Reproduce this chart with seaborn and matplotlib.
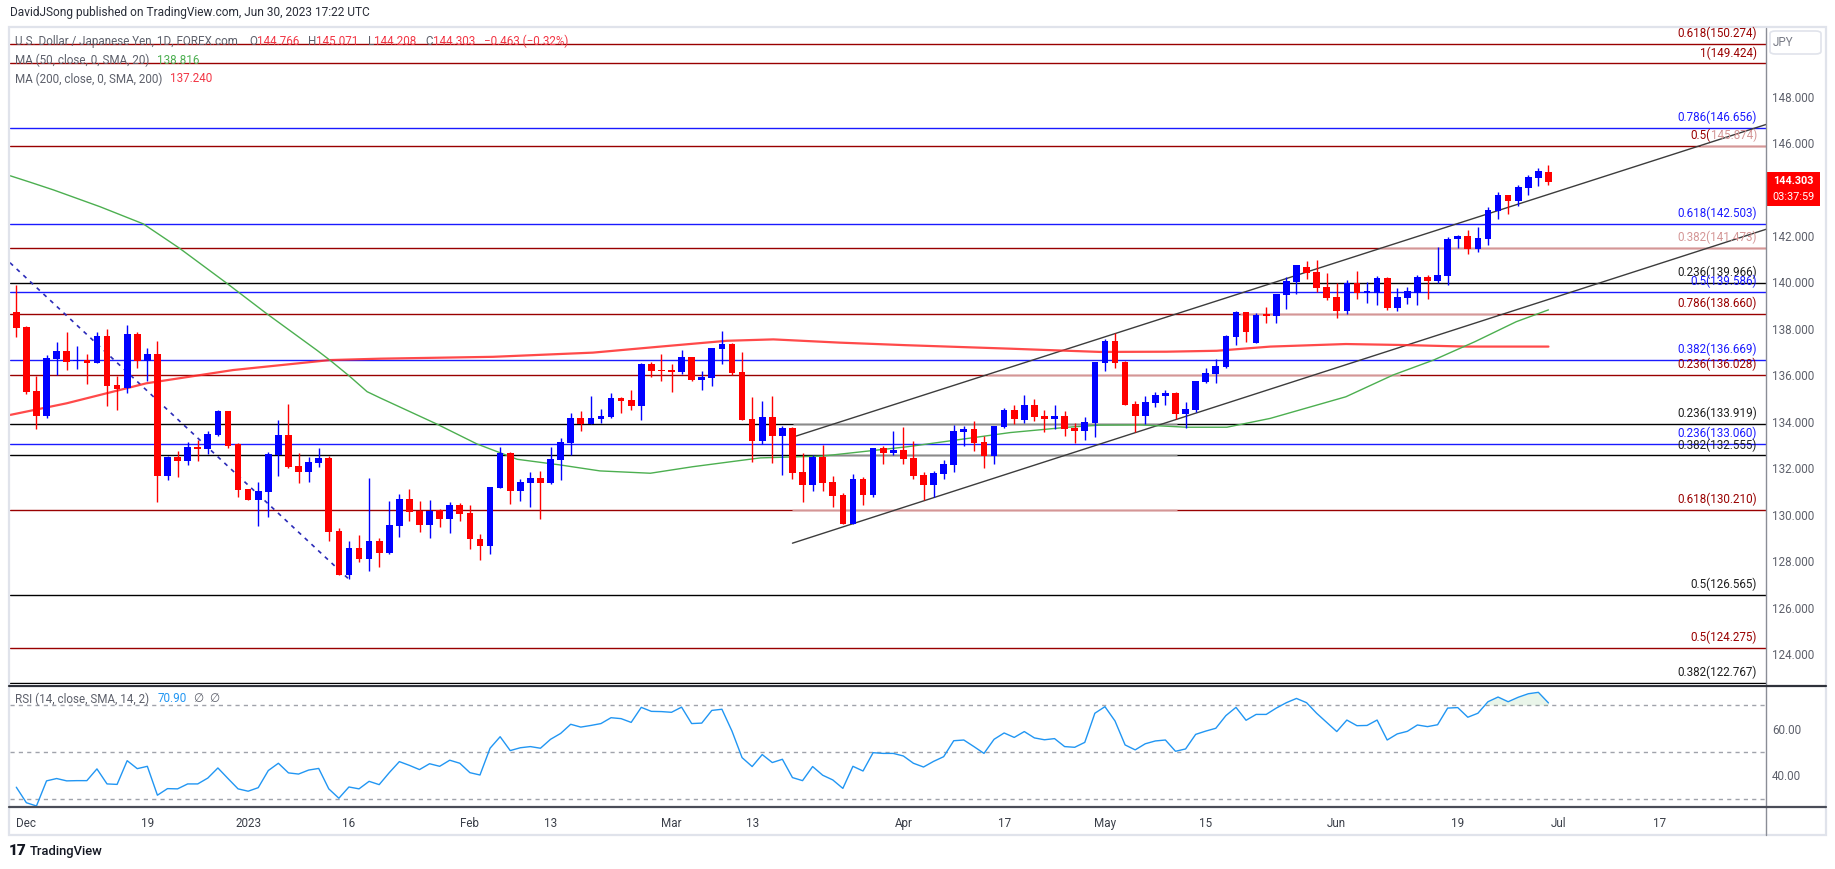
"""
USD/JPY daily candles with Fibonacci levels, channel, MAs and RSI
(TradingView style snapshot, Nov 30 2022 - Jun 30 2023).
"""

import numpy as np
import pandas as pd
import matplotlib
matplotlib.use("Agg")
import matplotlib.pyplot as plt
from matplotlib.patches import Rectangle, FancyBboxPatch
from matplotlib.lines import Line2D
import seaborn as sns

sns.set_theme(style="white")
plt.rcParams["font.family"] = ["Roboto", "DejaVu Sans"]

# ── Data ──────────────────────────────────────────────────────────────────────
opens = [138.72, 138.08, 135.33, 134.27, 136.71, 137.05, 136.60, 136.66, 136.55, 137.70,
         135.59, 135.44, 137.78, 136.64, 136.92, 131.69, 132.48, 132.33, 132.93, 132.85,
         133.44, 134.47, 133.05, 131.10, 130.65, 131.00, 132.58, 133.44, 132.10, 131.86,
         132.24, 132.45, 129.31, 127.43, 128.57, 128.12, 128.88, 128.37, 129.54, 130.68,
         130.18, 129.58, 130.21, 129.84, 130.42, 130.08, 128.96, 128.68, 131.17, 132.66,
         131.04, 131.39, 131.59, 131.39, 132.38, 133.11, 134.17, 133.92, 134.14, 134.23,
         135.03, 134.94, 134.70, 136.49, 136.23, 136.23, 136.16, 136.79, 135.82, 135.90,
         137.14, 137.37, 136.15, 134.13, 133.19, 134.21, 133.41, 133.74, 131.84, 131.30,
         132.50, 131.41, 130.85, 129.62, 131.54, 130.87, 132.88, 132.68, 132.79, 132.45,
         131.72, 131.30, 131.77, 132.16, 133.58, 133.69, 133.14, 132.55, 133.79, 134.51,
         134.10, 134.73, 134.24, 134.11, 134.24, 133.74, 133.62, 133.97, 136.55, 137.48,
         136.58, 134.77, 134.27, 134.83, 135.13, 135.24, 134.36, 134.53, 135.73, 136.08,
         136.36, 137.67, 138.73, 137.41, 138.63, 138.57, 139.48, 140.03, 140.67, 140.45,
         139.81, 139.37, 138.79, 139.98, 139.56, 139.56, 140.19, 138.92, 139.35, 139.56,
         140.24, 140.08, 140.29, 141.85, 142.00, 141.45, 141.88, 143.09, 143.76, 143.50,
         144.08, 144.51, 144.766]
highs = [139.89, 138.13, 135.98, 136.88, 137.42, 137.87, 137.27, 136.92, 137.87, 138.00,
         135.99, 138.17, 137.87, 137.18, 137.48, 132.53, 132.75, 133.14, 133.22, 133.61,
         134.53, 134.47, 133.11, 131.10, 131.41, 132.72, 134.08, 134.77, 132.66, 132.50,
         132.89, 132.53, 129.42, 128.89, 129.13, 131.57, 128.99, 130.60, 130.90, 131.11,
         130.60, 130.64, 130.25, 130.57, 130.52, 130.42, 129.16, 131.20, 132.92, 132.72,
         131.54, 131.85, 131.89, 132.92, 133.31, 134.38, 134.47, 135.12, 134.56, 135.24,
         135.09, 135.39, 136.55, 136.58, 136.92, 136.49, 137.09, 136.79, 136.19, 137.18,
         137.91, 137.41, 137.01, 135.09, 134.90, 135.11, 133.82, 133.78, 132.66, 132.57,
         133.02, 131.67, 130.94, 131.76, 131.63, 132.88, 132.96, 133.61, 133.78, 133.18,
         131.84, 131.89, 132.36, 133.88, 133.82, 134.04, 133.39, 133.82, 134.60, 134.73,
         135.16, 134.99, 134.51, 134.73, 134.47, 133.95, 134.21, 136.58, 137.57, 137.81,
         136.62, 134.90, 135.12, 135.29, 135.37, 135.29, 134.86, 135.76, 136.32, 136.71,
         137.74, 138.77, 138.73, 138.69, 138.94, 139.50, 140.24, 140.75, 140.92, 140.97,
         140.41, 139.98, 140.11, 140.49, 140.02, 140.28, 140.24, 139.76, 139.81, 140.32,
         140.32, 141.53, 141.96, 142.04, 142.26, 142.39, 143.25, 143.89, 143.76, 144.19,
         144.62, 144.93, 145.071]
lows = [137.67, 135.20, 133.68, 134.15, 136.00, 136.23, 136.28, 135.65, 136.52, 134.70,
        134.53, 135.26, 136.32, 135.77, 130.57, 131.50, 131.63, 132.15, 132.32, 132.62,
        133.39, 132.89, 130.78, 130.65, 129.54, 129.92, 131.69, 132.03, 131.36, 131.40,
        132.07, 128.89, 127.43, 127.24, 127.97, 127.60, 127.77, 128.30, 129.06, 129.75,
        129.28, 129.02, 129.49, 129.23, 129.75, 128.55, 128.07, 128.32, 131.17, 130.48,
        130.60, 130.35, 129.84, 131.33, 131.52, 132.58, 133.62, 133.90, 133.95, 134.18,
        134.40, 134.53, 134.10, 135.95, 135.78, 135.30, 136.05, 135.78, 135.39, 135.55,
        136.51, 136.02, 134.10, 132.29, 133.05, 132.23, 131.72, 131.56, 130.57, 131.04,
        131.04, 130.35, 129.62, 129.62, 130.44, 130.78, 132.20, 132.58, 132.20, 131.56,
        130.64, 130.78, 131.56, 131.86, 132.98, 132.76, 132.03, 132.20, 133.74, 133.90,
        133.97, 134.05, 133.58, 133.68, 133.41, 133.08, 133.24, 133.36, 136.20, 136.33,
        134.74, 133.57, 133.91, 134.66, 134.74, 134.11, 133.75, 134.44, 135.67, 135.67,
        136.32, 137.32, 137.45, 137.41, 138.27, 138.27, 138.87, 139.52, 140.16, 139.60,
        139.26, 138.49, 138.66, 139.30, 139.13, 139.04, 138.83, 138.79, 139.09, 139.04,
        139.30, 139.99, 139.91, 141.48, 141.24, 141.33, 141.63, 142.73, 142.95, 143.29,
        143.76, 144.17, 144.208]
closes = [138.06, 135.30, 134.27, 136.74, 137.05, 136.59, 136.65, 136.55, 137.70, 135.56,
          135.42, 137.78, 136.64, 136.92, 131.69, 132.50, 132.33, 132.92, 132.85, 133.48,
          134.47, 132.98, 131.08, 130.65, 131.04, 132.63, 133.44, 132.07, 131.86, 132.27,
          132.45, 129.28, 127.43, 128.57, 128.12, 128.88, 128.37, 129.57, 130.68, 130.14,
          129.58, 130.18, 129.84, 130.42, 130.05, 128.94, 128.68, 131.20, 132.66, 131.04,
          131.41, 131.59, 131.39, 132.40, 133.14, 134.17, 133.92, 134.17, 134.25, 135.03,
          134.91, 134.70, 136.49, 136.21, 136.19, 136.16, 136.79, 135.82, 135.93, 137.18,
          137.37, 136.12, 134.10, 133.19, 134.21, 133.41, 133.74, 131.82, 131.30, 132.50,
          131.38, 130.83, 129.62, 131.54, 130.87, 132.88, 132.68, 132.79, 132.42, 131.69,
          131.30, 131.80, 132.19, 133.61, 133.69, 133.11, 132.55, 133.82, 134.51, 134.11,
          134.73, 134.23, 134.11, 134.24, 133.71, 133.62, 133.99, 136.58, 137.48, 136.55,
          134.74, 134.27, 134.86, 135.16, 135.24, 134.36, 134.56, 135.76, 136.11, 136.41,
          137.70, 138.73, 137.88, 138.61, 138.57, 139.50, 140.06, 140.75, 140.42, 139.78,
          139.35, 138.79, 139.98, 139.56, 139.63, 140.19, 138.92, 139.37, 139.63, 140.24,
          140.08, 140.32, 141.87, 142.00, 141.45, 141.91, 143.12, 143.76, 143.52, 144.12,
          144.55, 144.80, 144.303]

rsi = [35.0, 28.4, 27.0, 37.7, 38.7, 37.7, 37.8, 37.8, 42.8, 36.4,
       36.2, 46.3, 42.9, 43.9, 31.6, 34.4, 34.3, 36.4, 36.4, 38.9,
       43.2, 38.7, 34.3, 33.3, 34.8, 42.1, 45.2, 41.1, 40.6, 42.3,
       43.0, 34.3, 30.3, 35.1, 34.3, 37.5, 36.1, 41.2, 45.9, 44.3,
       42.5, 45.0, 43.9, 46.5, 45.2, 41.2, 40.2, 51.6, 56.5, 50.6,
       51.8, 52.3, 51.6, 55.4, 57.9, 61.8, 60.6, 61.3, 62.1, 64.6,
       64.2, 62.6, 69.0, 67.3, 67.2, 66.9, 69.1, 62.1, 62.3, 67.7,
       68.2, 58.9, 47.6, 43.8, 48.9, 45.5, 46.9, 39.1, 37.8, 43.8,
       40.1, 38.1, 34.5, 43.9, 41.9, 49.7, 49.4, 49.4, 48.3, 45.2,
       43.6, 46.0, 48.0, 54.8, 55.1, 52.3, 49.4, 55.4, 58.1, 56.2,
       58.7, 56.0, 55.2, 55.7, 52.3, 52.0, 54.1, 66.5, 69.3, 63.2,
       53.0, 50.9, 53.5, 54.7, 55.1, 50.3, 51.3, 57.5, 58.9, 60.1,
       65.5, 69.0, 63.5, 66.0, 66.0, 68.7, 71.0, 72.8, 71.0, 66.5,
       62.6, 58.7, 63.6, 61.2, 61.3, 63.6, 55.1, 57.7, 58.8, 61.5,
       60.8, 61.6, 68.7, 68.9, 64.8, 66.5, 71.4, 73.4, 71.4, 73.3,
       74.8, 75.4, 70.9]

# moving averages, sampled along the curves (bar index, price)
ma50_x = [-0.6, 1.4, 3.7, 8.3, 12.6, 16.2, 20.9, 22.2, 24.8, 29.8, 31.1, 33.1, 34.8,
          36.1, 41.7, 45.7, 49.7, 53.9, 57.9, 62.9, 67.1, 73.8, 80.0, 88.4, 98.6,
          104.3, 107.5, 111.5, 116.1, 120.1, 124.4, 131.9, 136.6, 140.6, 144.7, 148.8, 152.0]
ma50_y = [144.59, 144.31, 143.98, 143.26, 142.52, 141.47, 139.96, 139.53, 138.67, 137.09,
          136.66, 135.95, 135.30, 135.03, 133.91, 133.05, 132.39, 132.15, 131.89, 131.79,
          132.07, 132.45, 132.53, 132.93, 133.54, 133.77, 133.86, 133.87, 133.77, 133.77,
          134.15, 135.08, 136.02, 136.66, 137.45, 138.31, 138.82]
ma200_x = [-0.6, 5.0, 12.9, 21.5, 31.1, 36.1, 47.3, 57.2, 63.9, 70.5, 75.1, 81.7, 88.3,
           98.6, 107.5, 114.1, 119.1, 124.4, 131.9, 137.3, 143.9, 152.0]
ma200_y = [134.30, 134.80, 135.66, 136.23, 136.66, 136.72, 136.80, 136.98, 137.24, 137.49,
           137.55, 137.41, 137.30, 137.15, 137.01, 137.02, 137.06, 137.24, 137.35, 137.31,
           137.24, 137.24]

fib_levels = [150.274, 149.424, 146.656, 145.874, 142.503, 141.473, 139.966, 139.586, 138.660,
              136.669, 136.028, 133.919, 133.060, 132.555, 130.210, 126.565, 124.275, 122.767]
fib_ratios = ["0.618", "1", "0.786", "0.5", "0.618", "0.382", "0.236", "0.5", "0.786",
              "0.382", "0.236", "0.236", "0.236", "0.382", "0.618", "0.5", "0.5", "0.382"]
fib_tool = ["r", "r", "b", "r", "b", "r", "k", "b", "r", "b", "r", "k", "b", "k", "r", "k", "r", "k"]

# channel and down-trend line anchors (bar index, price)
chan_upper = [(77.0, 133.34), (173.6, 146.80)]
chan_lower = [(77.0, 128.78), (173.6, 142.29)]
down_line = [(-0.63, 140.85), (32.9, 127.27)]

# price-axis labels (144.000 sits under the last-price tag, so it is not shown)
price_ticks = [124, 126, 128, 130, 132, 134, 136, 138, 140, 142, 146, 148]

tick_dates = ["2022-12-01", "2022-12-19", "2023-01-02", "2023-01-16", "2023-02-01", "2023-02-13",
              "2023-03-01", "2023-03-13", "2023-04-03", "2023-04-17", "2023-05-01", "2023-05-15",
              "2023-06-01", "2023-06-19", "2023-07-03", "2023-07-17"]
tick_text = ["Dec", "19", "2023", "16", "Feb", "13", "Mar", "13", "Apr", "17", "May", "15",
             "Jun", "19", "Jul", "17"]

# ── Styling constants ─────────────────────────────────────────────────────────
W, H = 1835, 869
FS = 8.4
UP, DOWN = "#0000ff", "#ff0000"
DRED, BLUE, BLACK, PINK = "#990000", "#1a1aff", "#000000", "#d49696"
TXT, GRAY = "#2a2e39", "#5d606b"
tool_color = {"r": DRED, "b": BLUE, "k": BLACK}

X0, DX = 16.3, 10.08           # pixel centre of bar 0 and bar spacing
def bar_of(px):
    return (px - X0) / DX

fig = plt.figure(figsize=(W / 100, H / 100), dpi=100)
fig.patch.set_facecolor("white")
ax = fig.add_axes([10 / W, 1 - 684 / H, 1756 / W, 656 / H])
ax2 = fig.add_axes([10 / W, 1 - 806 / H, 1756 / W, 120 / H])

xlim = (bar_of(10), bar_of(1766))
for a in (ax, ax2):
    a.set_xlim(*xlim)
    a.set_facecolor("white")
    for s in a.spines.values():
        s.set_visible(False)
ax.set_ylim(122.72, 150.95)
ax2.set_ylim(27.0, 78.1)

# ── Price pane ────────────────────────────────────────────────────────────────
o, h, l, c = map(np.array, (opens, highs, lows, closes))
idx = np.arange(len(c))
cols = np.where(c >= o, UP, DOWN)

for lev, t in zip(fib_levels, fib_tool):
    ax.axhline(lev, color=tool_color[t], lw=1.0, zorder=1)
# lighter stretches where other fib tools overlap
light = [(145.874, 1700, 1766, PINK), (141.473, 1380, 1766, PINK), (138.660, 1240, 1497, PINK),
         (136.028, 987, 1400, PINK), (133.919, 793, 1177, "#8a8a8a"),
         (132.555, 823, 1177, "#8a8a8a"), (130.210, 792, 1177, PINK)]
for lev, p0, p1, colr in light:
    ax.hlines(lev, bar_of(p0), bar_of(p1), color=colr, lw=1.0, zorder=1.5)

for pts in (chan_upper, chan_lower):
    ax.plot([pts[0][0], pts[1][0]], [pts[0][1], pts[1][1]], color="#3c3c3c", lw=1.0, zorder=2)
ax.plot([down_line[0][0], down_line[1][0]], [down_line[0][1], down_line[1][1]],
        color="#2b2bb8", lw=1.2, dashes=(2.5, 3), zorder=2)

sns.lineplot(x=ma200_x, y=ma200_y, ax=ax, color="#ff2a2a", lw=1.6, alpha=0.85,
             sort=False, estimator=None, zorder=2.5)
sns.lineplot(x=ma50_x, y=ma50_y, ax=ax, color="#4caf50", lw=1.0,
             sort=False, estimator=None, zorder=2.5)

ax.vlines(idx, l, h, colors=cols, lw=1.0, zorder=3)
ax.bar(idx, np.maximum(np.abs(c - o), 0.04), bottom=np.minimum(o, c), width=0.66,
       color=cols, lw=0, zorder=4)

ax.set_xticks([])
ax.yaxis.tick_right()
ax.set_yticks(price_ticks)
ax.set_yticklabels([f"{v:.3f}" for v in price_ticks])
ax.tick_params(axis="y", length=0, pad=4.3, labelsize=FS, labelcolor=GRAY)
ax.set_xlabel("")
ax.set_ylabel("")

# ── RSI pane ──────────────────────────────────────────────────────────────────
r = np.array(rsi)
for lev in (70, 50, 30):
    ax2.axhline(lev, color="#a0a3ab", lw=1.0, dashes=(3, 3), zorder=1)
ax2.fill_between(idx, 70, r, where=(r > 70) & (idx > 144), interpolate=True,
                 color="#4caf50", alpha=0.12, lw=0)
sns.lineplot(x=idx, y=r, ax=ax2, color="#2196f3", lw=1.0, zorder=3)
ax2.yaxis.tick_right()
ax2.set_yticks([40, 60])
ax2.set_yticklabels(["40.00", "60.00"])
ax2.tick_params(axis="y", length=0, pad=4.3, labelsize=FS, labelcolor=GRAY)

future = pd.bdate_range("2022-11-30", "2023-07-31")
tick_pos = [future.get_loc(pd.Timestamp(d)) for d in tick_dates]
ax2.set_xticks(tick_pos)
ax2.set_xticklabels(tick_text)
ax2.tick_params(axis="x", length=0, pad=8, labelsize=FS, labelcolor="#3a3e48")
ax2.set_xlabel("")
ax2.set_ylabel("")

# ── Frame, separators ─────────────────────────────────────────────────────────
def fx(px):
    return px / W
def fy(py):
    return 1 - py / H

fig.add_artist(Rectangle((fx(9), fy(835)), fx(1826) - fx(9), fy(27) - fy(835),
                         fill=False, ec="#e0e3eb", lw=1.6, transform=fig.transFigure))
fig.add_artist(Line2D([fx(1766), fx(1766)], [fy(28), fy(835)], color="#8a8d96", lw=1.0))
fig.add_artist(Line2D([fx(9), fx(1826)], [fy(685.5), fy(685.5)], color="#2f323b", lw=1.6))
fig.add_artist(Line2D([fx(9), fx(1826)], [fy(806.5), fy(806.5)], color="#4a4d58", lw=1.6))

# ── Text helpers ──────────────────────────────────────────────────────────────
renderer = fig.canvas.get_renderer()

def text_px(px, py, s, colr, size=FS, ha="left", **kw):
    return fig.text(fx(px), fy(py), s, color=colr, fontsize=size, ha=ha, va="center", **kw)

def chain(px, py, parts, size=FS, right=False):
    items, x = [], px
    for s, colr, gap in parts:
        x += gap
        t = text_px(x, py, s, colr, size)
        items.append(t)
        x += t.get_window_extent(renderer).width
    if right:
        shift = x - px
        for t in items:
            t.set_x(t.get_position()[0] - shift / W)

# fib labels, right aligned above each line
for lev, ratio, t in zip(fib_levels, fib_ratios, fib_tool):
    line_py = H - ax.transData.transform((0, lev))[1]
    colr = tool_color[t] if t != "k" else "#1e1e1e"
    if lev == 141.473:
        colr = PINK
    if lev == 145.874:
        chain(1757, line_py - 10.5, [(f"{ratio}(", DRED, 0), (f"{lev:.3f})", PINK, 0)], right=True)
    else:
        text_px(1757, line_py - 10.5, f"{ratio}({lev:.3f})", colr, ha="right")

# header
text_px(10, 12.5, "DavidJSong published on TradingView.com, Jun 30, 2023 17:22 UTC", TXT, size=8.6)
RED_T = "#f23645"
chain(15, 41.5, [("U.S. Dollar / Japanese Yen, 1D, FOREX.com", GRAY, 0),
                 ("O", GRAY, 11), ("144.766", RED_T, 0), ("H", GRAY, 9), ("145.071", RED_T, 0),
                 ("L", GRAY, 9), ("144.208", RED_T, 0), ("C", GRAY, 9), ("144.303", RED_T, 0),
                 ("−0.463 (−0.32%)", RED_T, 9)])
chain(15, 60.5, [("MA (50, close, 0, SMA, 20)", GRAY, 0), ("138.816", "#4caf50", 8)])
chain(15, 79, [("MA (200, close, 0, SMA, 200)", GRAY, 0), ("137.240", RED_T, 8)])
chain(15, 699, [("RSI (14, close, SMA, 14, 2)", GRAY, 0), ("70.90", "#2196f3", 8),
                ("∅", GRAY, 7), ("∅", GRAY, 6)])

# JPY box and last price tag
fig.add_artist(FancyBboxPatch((fx(1770), fy(54)), fx(1821) - fx(1770), fy(31) - fy(54),
                              boxstyle="round,pad=0,rounding_size=0.003", fill=False,
                              ec="#e0e3eb", lw=1.2, transform=fig.transFigure))
text_px(1773, 42.5, "JPY", "#787b86")
fig.add_artist(Rectangle((fx(1766), fy(206)), fx(1820) - fx(1766), fy(172) - fy(206),
                         fc="#ff0000", ec="none", transform=fig.transFigure))
text_px(1793, 180.5, "144.303", "white", size=7.8, ha="center", fontweight="bold")
text_px(1793, 197.5, "03:37:59", "white", size=7.8, ha="center")

# logo
text_px(9, 851, "17", "#131722", size=11, fontweight="heavy")
text_px(30, 851, "TradingView", "#131722", size=9.4, fontweight="medium")

fig.savefig("out.png", dpi=100, facecolor="white")
